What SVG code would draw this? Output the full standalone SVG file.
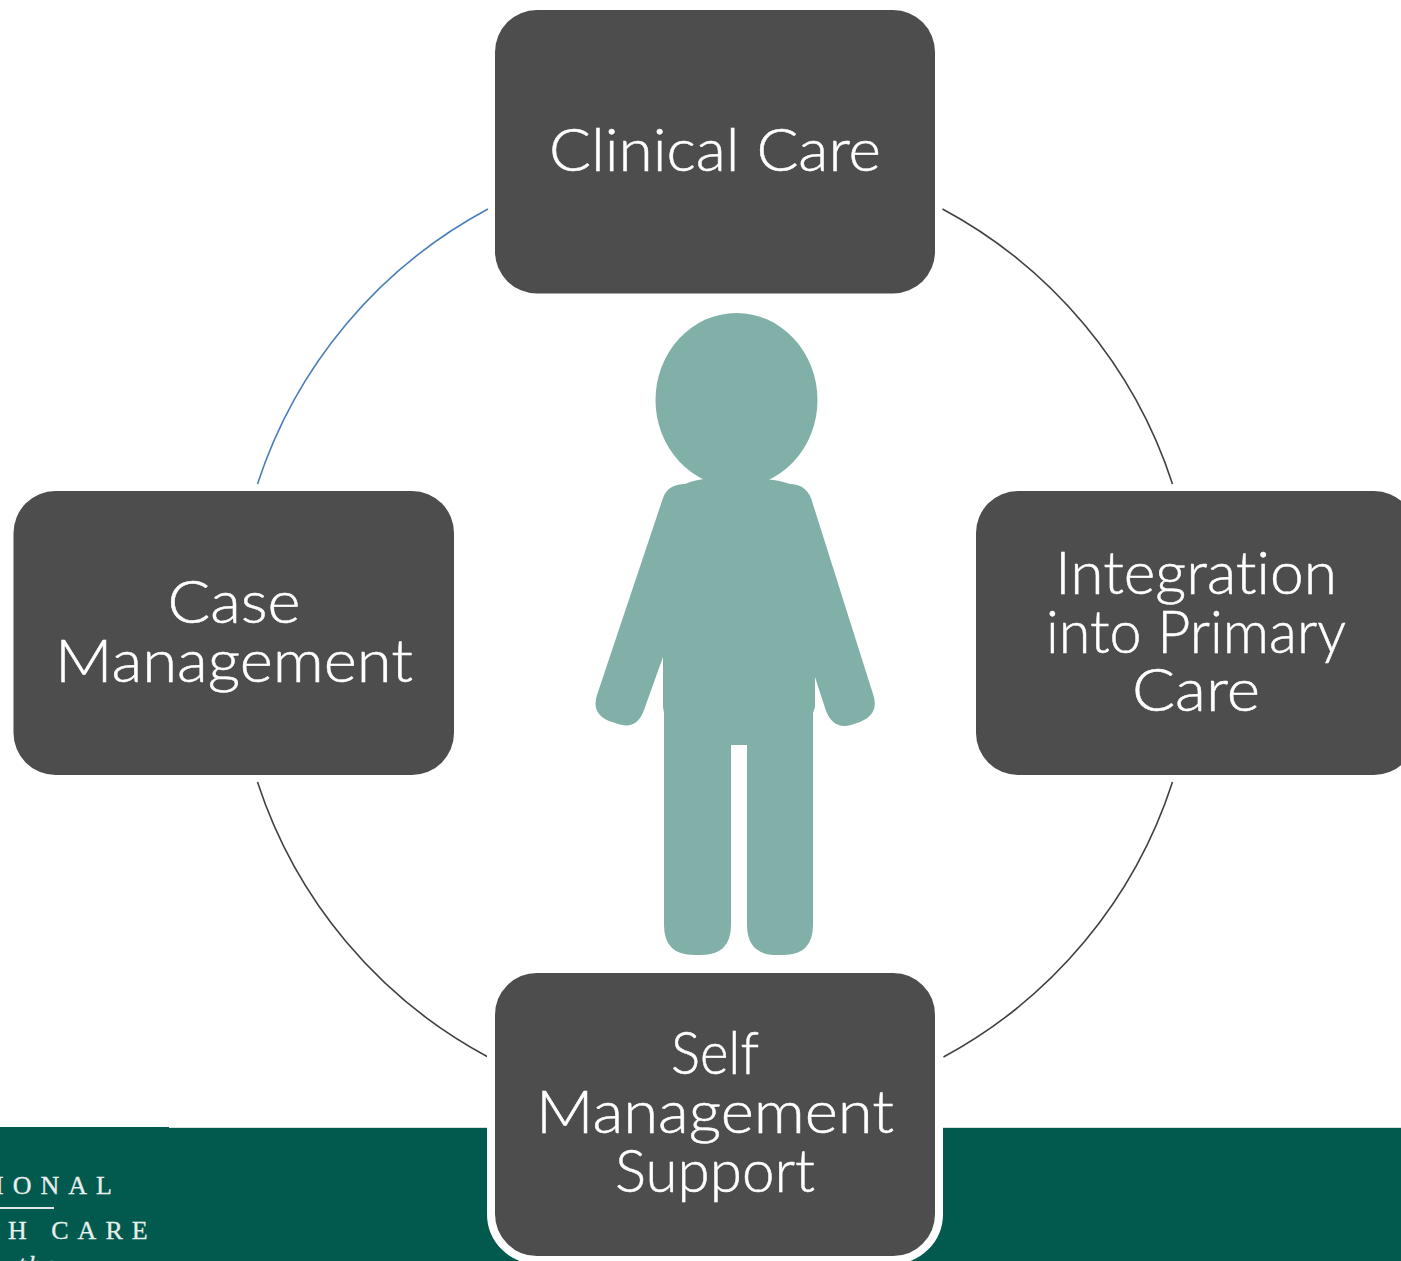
<svg xmlns="http://www.w3.org/2000/svg" width="1401" height="1261" viewBox="0 0 1401 1261">
<style>
.node{fill:#4d4d4d}
.lbl{font-family:"Lato","Open Sans","Liberation Sans",sans-serif;font-weight:300;font-size:59px;fill:#fff;stroke:#fff;stroke-width:.5;text-anchor:middle;font-variant-ligatures:none}
.arc{fill:none;stroke:#404040;stroke-width:1.6}
.logo{font-family:"Liberation Serif",serif;font-size:26px;fill:#e8efec;stroke:#e8efec;stroke-width:.3;letter-spacing:9px}
</style>
<rect width="1401" height="1261" fill="#fff"/>
<g id="banner">
<rect x="0" y="1128" width="1401" height="133" fill="#025a4e"/>
<rect x="0" y="1127" width="169" height="1" fill="#025a4e"/>
<rect x="169" y="1127" width="1232" height="1" fill="#d5dedb"/>
<text class="logo" x="-5" y="1194">IONAL</text>
<rect x="0" y="1207" width="54" height="2" fill="#dfe8e5"/>
<text class="logo" x="8" y="1239">H CARE</text>
<text class="logo" x="18" y="1273" font-style="italic" font-size="30" style="letter-spacing:3px">the</text>
</g>
<g id="connectors">
<path class="arc" style="stroke:#4a7ebb" d="M257.500 484A481 481 0 0 1 488 209"/>
<path class="arc" d="M942.500 209A481 481 0 0 1 1172.500 484"/>
<path class="arc" d="M1172.500 782A481 481 0 0 1 943.500 1057"/>
<path class="arc" d="M488 1057A481 481 0 0 1 257.500 782"/>
</g>
<g id="person" fill="#80b0a8">
<ellipse cx="736.500" cy="400" rx="81" ry="87"/>
<path d="M685 484Q697 479 708 479L765 479Q779 480 790 484Q805 484 811 498L873 694Q880 714 860 722L851 725Q832 730 825 708L815 677L815 707L813 713L813 925Q813 955 783 955L777 955Q747 955 747 925L747 745L731 745L731 925Q731 955 701 955L694 955Q664 955 664 925L664 713L663 707L663 657L644 710Q637 730 618 724L609 721Q591 713 597 695L663 498Q668 484 685 484Z"/>
</g>
<g id="node-clinical-care">
<rect class="node" x="495" y="10" width="440" height="283.500" rx="42"/>
<text class="lbl" x="715" y="171" textLength="332" lengthAdjust="spacingAndGlyphs">Clinical Care</text>
</g>
<g id="node-integration">
<rect class="node" x="976" y="491" width="440" height="284" rx="42"/>
<text class="lbl" x="1196" y="594" textLength="282" lengthAdjust="spacingAndGlyphs">Integration</text>
<text class="lbl" x="1196" y="653" textLength="300" lengthAdjust="spacingAndGlyphs">into Primary</text>
<text class="lbl" x="1196" y="711" textLength="128" lengthAdjust="spacingAndGlyphs">Care</text>
</g>
<g id="node-case-management">
<rect class="node" x="13.500" y="491" width="440.500" height="284" rx="42"/>
<text class="lbl" x="234" y="623" textLength="133" lengthAdjust="spacingAndGlyphs">Case</text>
<text class="lbl" x="234" y="682" textLength="358" lengthAdjust="spacingAndGlyphs">Management</text>
</g>
<g id="node-self-management">
<rect class="node" x="491" y="969" width="448" height="291" rx="46" stroke="#fff" stroke-width="8"/>
<text class="lbl" x="715" y="1074" textLength="88" lengthAdjust="spacingAndGlyphs">Self</text>
<text class="lbl" x="715" y="1133" textLength="358" lengthAdjust="spacingAndGlyphs">Management</text>
<text class="lbl" x="715" y="1192" textLength="200" lengthAdjust="spacingAndGlyphs">Support</text>
</g>
</svg>
